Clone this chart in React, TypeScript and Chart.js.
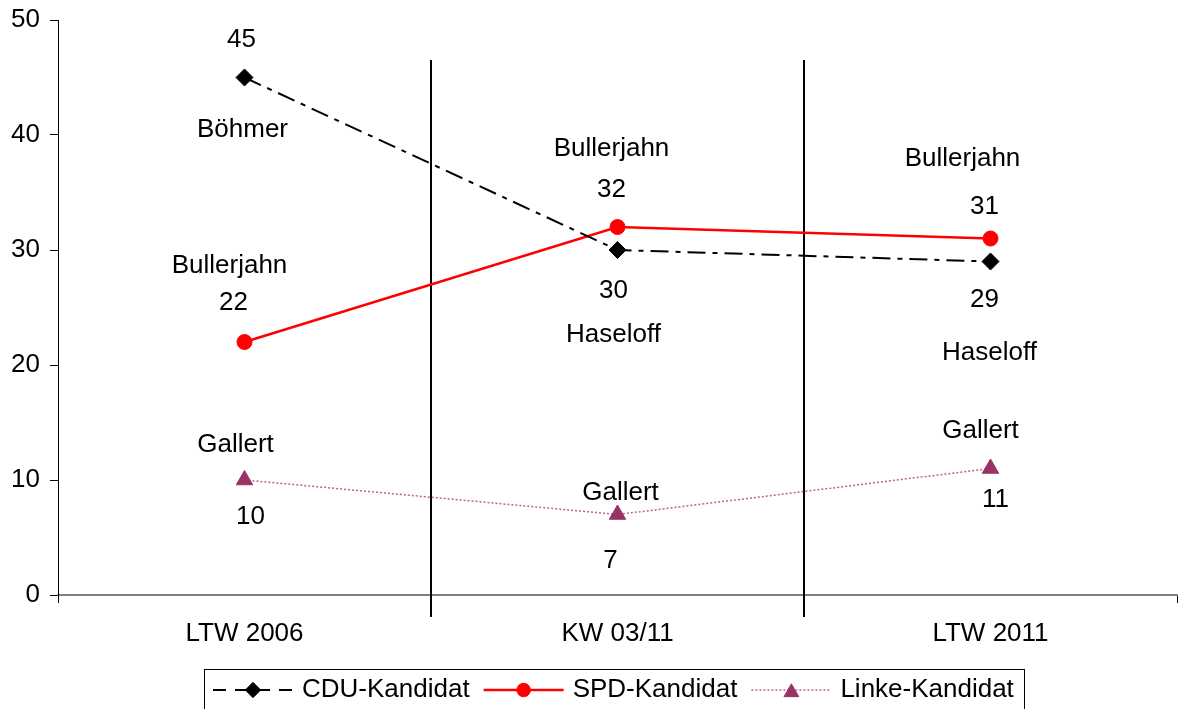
import React, { useEffect, useRef } from "react";
import { Chart, registerables } from "chart.js";
import { drawPoint } from "chart.js/helpers";

Chart.register(...registerables);

// ---------- data ----------
const categories = ["LTW 2006", "KW 03/11", "LTW 2011"];
const seriesNames = ["CDU-Kandidat", "SPD-Kandidat", "Linke-Kandidat"];
const cduValues = [45, 30, 29];
const spdValues = [22, 32, 31];
const linkeValues = [10, 7, 11];
const cduCandidates = ["Böhmer", "Haseloff", "Haseloff"];
const spdCandidates = ["Bullerjahn", "Bullerjahn", "Bullerjahn"];
const linkeCandidates = ["Gallert", "Gallert", "Gallert"];
const yTickValues = [0, 10, 20, 30, 40, 50];

// ---------- style / layout ----------
const FONT = "'Liberation Sans', Arial, Helvetica, sans-serif";
const FONT_SIZE = 26;
const W = 1178;
const H = 709;
const LABEL_DY = 2;

type Off = [number, number];
// label offsets in pixels relative to each point: [dx, dy]
const valueOffsets: Off[][] = [
  [[-3, -40], [-4, 39], [-6, 36]],
  [[-11, -41], [-6, -39], [-6, -34]],
  [[6, 35], [-7, 44], [5, 29]],
];
const nameOffsets: Off[][] = [
  [[-2, 50], [-4, 83], [-1, 89]],
  [[-15, -78], [-6, -80], [-28, -82]],
  [[-9, -37], [3, -24], [-10, -40]],
];
const candidateNames = [cduCandidates, spdCandidates, linkeCandidates];

const SEP_TOP = 40; // px below chart top
const SEP_BELOW = 22; // px below x axis

const LEGEND_BOX = { left: 204, top: 669, right: 1024 };
const LEGEND_ROW_Y = 690;
const LEGEND_START_X = 213;
const LEGEND_SAMPLE_W = 80;
const LEGEND_TEXT_GAP = 9;
const LEGEND_ITEM_GAP = 14;

const labelsPlugin = {
  id: "pointLabels",
  afterDatasetsDraw(chart: any) {
    const ctx = chart.ctx as CanvasRenderingContext2D;
    ctx.save();
    ctx.font = `${FONT_SIZE}px ${FONT}`;
    ctx.fillStyle = "#000";
    ctx.textAlign = "center";
    ctx.textBaseline = "middle";
    chart.data.datasets.forEach((ds: any, i: number) => {
      const meta = chart.getDatasetMeta(i);
      meta.data.forEach((pt: any, j: number) => {
        const vo = valueOffsets[i][j];
        const no = nameOffsets[i][j];
        ctx.fillText(String(ds.data[j]), pt.x + vo[0], pt.y + vo[1] + LABEL_DY);
        ctx.fillText(candidateNames[i][j], pt.x + no[0], pt.y + no[1] + LABEL_DY);
      });
    });
    ctx.restore();
  },
};

const separatorPlugin = {
  id: "separators",
  beforeDatasetsDraw(chart: any) {
    const ctx = chart.ctx as CanvasRenderingContext2D;
    const xs = chart.scales.x;
    const area = chart.chartArea;
    ctx.save();
    ctx.strokeStyle = "#000";
    ctx.lineWidth = 2;
    for (let i = 0; i < categories.length - 1; i++) {
      const px = Math.round((xs.getPixelForValue(i) + xs.getPixelForValue(i + 1)) / 2);
      ctx.beginPath();
      ctx.moveTo(px, area.top + SEP_TOP);
      ctx.lineTo(px, area.bottom + SEP_BELOW);
      ctx.stroke();
    }
    ctx.restore();
  },
};

const legendPlugin = {
  id: "customLegend",
  afterDraw(chart: any) {
    const ctx = chart.ctx as CanvasRenderingContext2D;
    ctx.save();
    ctx.strokeStyle = "#000";
    ctx.lineWidth = 1;
    ctx.strokeRect(
      LEGEND_BOX.left + 0.5,
      LEGEND_BOX.top + 0.5,
      LEGEND_BOX.right - LEGEND_BOX.left,
      H + 10 - LEGEND_BOX.top
    );
    ctx.font = `${FONT_SIZE}px ${FONT}`;
    ctx.textBaseline = "middle";
    ctx.textAlign = "left";
    let x = LEGEND_START_X;
    const y = LEGEND_ROW_Y;
    chart.data.datasets.forEach((ds: any) => {
      ctx.save();
      ctx.strokeStyle = ds.borderColor;
      ctx.lineWidth = ds.borderWidth;
      ctx.setLineDash(ds.legendDash || ds.borderDash || []);
      ctx.beginPath();
      ctx.moveTo(x, y);
      ctx.lineTo(x + LEGEND_SAMPLE_W, y);
      ctx.stroke();
      ctx.setLineDash([]);
      ctx.fillStyle = ds.pointBackgroundColor;
      ctx.strokeStyle = ds.pointBorderColor;
      ctx.lineWidth = 1;
      const ry = ds.pointStyle === "triangle" ? y + ds.pointRadius * 0.25 : y;
      drawPoint(
        ctx,
        { pointStyle: ds.pointStyle, radius: ds.pointRadius * 0.9, rotation: 0, borderWidth: 1 } as any,
        x + LEGEND_SAMPLE_W / 2,
        ry
      );
      ctx.restore();
      const tx = x + LEGEND_SAMPLE_W + LEGEND_TEXT_GAP;
      ctx.fillStyle = "#000";
      ctx.fillText(ds.label, tx, y);
      x = tx + ctx.measureText(ds.label).width + LEGEND_ITEM_GAP;
    });
    ctx.restore();
  },
};

export default function App() {
  const ref = useRef<HTMLCanvasElement | null>(null);

  useEffect(() => {
    if (!ref.current) return;
    Chart.defaults.font.family = FONT;
    const chart = new Chart(ref.current, {
      type: "line",
      data: {
        labels: categories,
        datasets: [
          {
            label: seriesNames[0],
            data: cduValues,
            borderColor: "#000000",
            borderWidth: 2,
            borderDash: [18, 7, 5, 7],
            legendDash: [13, 9],
            pointStyle: "rectRot",
            pointRadius: 8.5,
            pointBackgroundColor: "#000000",
            pointBorderColor: "#000000",
            pointBorderWidth: 1,
            tension: 0,
          } as any,
          {
            label: seriesNames[1],
            data: spdValues,
            borderColor: "#FF0000",
            borderWidth: 2.5,
            pointStyle: "circle",
            pointRadius: 7.5,
            pointBackgroundColor: "#FF0000",
            pointBorderColor: "#FF0000",
            pointBorderWidth: 1,
            tension: 0,
          } as any,
          {
            label: seriesNames[2],
            data: linkeValues,
            borderColor: "rgba(153,51,102,0.75)",
            borderWidth: 1.5,
            borderDash: [2, 2],
            pointStyle: "triangle",
            pointRadius: 9.5,
            pointBackgroundColor: "#993366",
            pointBorderColor: "#993366",
            pointBorderWidth: 1,
            tension: 0,
          } as any,
        ],
      },
      options: {
        responsive: false,
        animation: false,
        events: [],
        layout: { autoPadding: false, padding: { top: 20, right: 1, left: 0, bottom: 0 } },
        plugins: {
          legend: { display: false },
          tooltip: { enabled: false },
        },
        scales: {
          x: {
            type: "category",
            offset: true,
            grid: {
              offset: true,
              drawOnChartArea: false,
              drawTicks: true,
              tickLength: 8,
              color: "#000000",
            },
            border: { color: "#808080", width: 2 },
            ticks: {
              color: "#000000",
              font: { size: FONT_SIZE, family: FONT },
              padding: 15,
              maxRotation: 0,
              autoSkip: false,
            },
            afterFit: (scale: any) => {
              scale.height = 114;
              scale.paddingLeft = 0;
              scale.paddingRight = 0;
              scale.paddingTop = 0;
              scale.paddingBottom = 0;
            },
          },
          y: {
            min: 0,
            max: 50,
            afterBuildTicks: (scale: any) => {
              scale.ticks = yTickValues.map((v) => ({ value: v }));
            },
            grid: {
              drawOnChartArea: false,
              drawTicks: true,
              tickLength: 8,
              color: "#000000",
            },
            border: { color: "#000000", width: 1 },
            ticks: {
              color: "#000000",
              font: { size: FONT_SIZE, family: FONT },
              padding: 10,
            },
            afterFit: (scale: any) => {
              scale.width = 58;
              scale.paddingLeft = 0;
              scale.paddingRight = 0;
              scale.paddingTop = 0;
              scale.paddingBottom = 0;
            },
          },
        },
      },
      plugins: [separatorPlugin, labelsPlugin, legendPlugin],
    });
    return () => chart.destroy();
  }, []);

  return (
    <div style={{ position: "absolute", left: 0, top: 0, width: W, height: H, background: "#fff" }}>
      <canvas ref={ref} width={W} height={H} style={{ display: "block", width: W, height: H }} />
    </div>
  );
}
